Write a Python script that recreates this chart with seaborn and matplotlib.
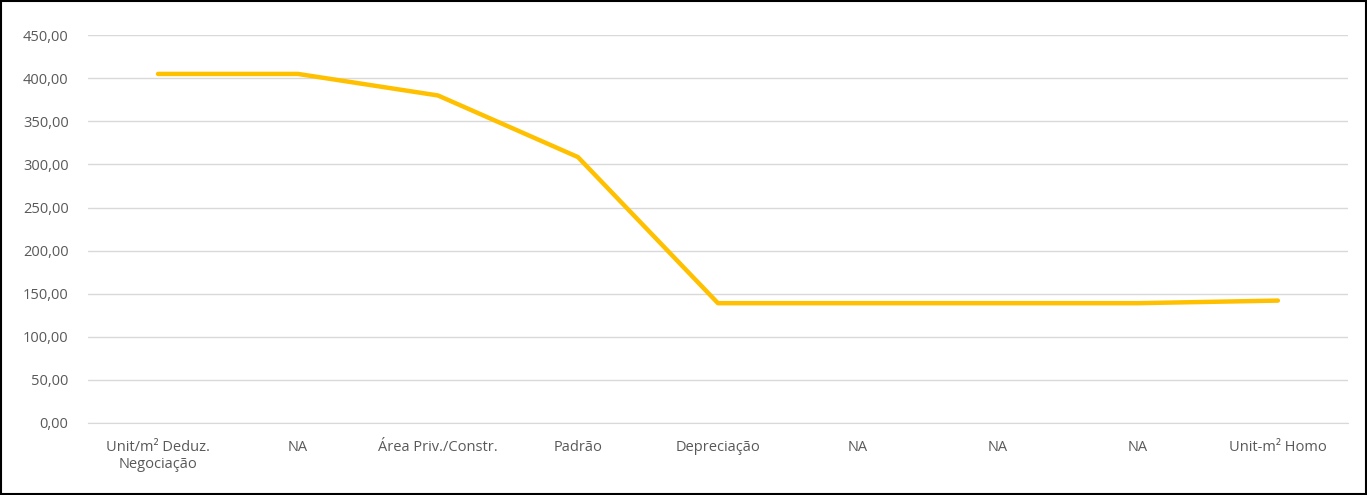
import matplotlib
matplotlib.use('Agg')
import matplotlib.pyplot as plt
import seaborn as sns
import numpy as np
import pandas as pd
from matplotlib.ticker import FuncFormatter

sns.set_style('white')
plt.rcParams['font.family'] = ['Open Sans', 'DejaVu Sans']

# dados
categorias = ['Unit/m² Deduz.\nNegociação', 'NA', 'Área Priv./Constr.', 'Padrão',
              'Depreciação', 'NA', 'NA', 'NA', 'Unit-m² Homo']
valores = [405.0, 405.0, 380.0, 308.5, 139.0, 139.0, 139.0, 139.0, 142.0]
y_ticks = [0, 50, 100, 150, 200, 250, 300, 350, 400, 450]

df = pd.DataFrame({'pos': np.arange(len(categorias)), 'valor': valores})

fig = plt.figure(figsize=(13.67, 4.95), dpi=100)
ax = fig.add_axes([0.0644, 0.1455, 0.9216, 0.7835])

sns.lineplot(data=df, x='pos', y='valor', color='#FFC000', linewidth=3.2,
             solid_capstyle='round', ax=ax)

ax.set_xlim(-0.5, len(categorias) - 0.5)
ax.set_ylim(0, 450)
ax.set_yticks(y_ticks)
ax.yaxis.set_major_formatter(FuncFormatter(lambda v, p: f'{v:.2f}'.replace('.', ',')))
ax.set_xticks(df['pos'])
ax.set_xticklabels(categorias)
ax.tick_params(axis='both', colors='#595959', labelsize=10.5, length=0)
ax.tick_params(axis='y', pad=14)
ax.tick_params(axis='x', pad=12)
ax.set_xlabel('')
ax.set_ylabel('')
ax.grid(axis='y', color='#D9D9D9', linewidth=1)
ax.set_axisbelow(True)
for s in ['top', 'right', 'left']:
    ax.spines[s].set_visible(False)
ax.spines['bottom'].set_color('#D9D9D9')

# borda da figura
fig.patches.append(plt.Rectangle((0.001, 0.002), 0.998, 0.996, transform=fig.transFigure,
                                 fill=False, edgecolor='black', linewidth=1.5))

plt.savefig('out.png', dpi=100)
